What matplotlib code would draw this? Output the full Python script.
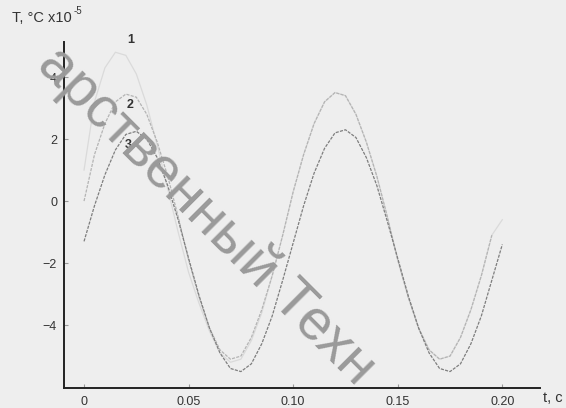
import numpy as np
import matplotlib
matplotlib.use('Agg')
from matplotlib import pyplot as plt

plt.rcParams['font.family'] = ['Liberation Sans', 'DejaVu Sans']

# time, s (step 0.005)
t = np.round(np.arange(0, 41) * 0.005, 3)

# curve 1 - faint, big first swing, then close to curve 2
T1 = [1.0, 3.2, 4.3, 4.8, 4.7, 4.1, 3.1, 1.8, 0.4, -1.0,
      -2.3, -3.3, -4.2, -4.9, -5.2, -5.1, -4.5, -3.6, -2.4, -1.1,
      0.3, 1.5, 2.5, 3.2, 3.5, 3.4, 2.8, 1.9, 0.8, -0.5,
      -1.9, -3.1, -4.1, -4.8, -5.1, -5.0, -4.4, -3.5, -2.4, -1.1, -0.6]
# curve 2 - light gray
T2 = [0.0, 1.5, 2.5, 3.2, 3.45, 3.35, 2.8, 1.9, 0.8, -0.5,
      -1.9, -3.1, -4.1, -4.8, -5.1, -5.0, -4.4, -3.5, -2.4, -1.1,
      0.3, 1.5, 2.5, 3.2, 3.5, 3.4, 2.8, 1.9, 0.8, -0.5,
      -1.9, -3.1, -4.1, -4.8, -5.1, -5.0, -4.4, -3.5, -2.4, -1.1]
# curve 3 - darkest
T3 = [-1.3, -0.15, 0.85, 1.65, 2.15, 2.25, 2.0, 1.4, 0.5, -0.6,
      -1.85, -3.05, -4.1, -4.9, -5.4, -5.5, -5.25, -4.6, -3.7, -2.55,
      -1.35, -0.15, 0.9, 1.7, 2.2, 2.3, 2.05, 1.4, 0.5, -0.65,
      -1.85, -3.05, -4.1, -4.9, -5.4, -5.5, -5.25, -4.6, -3.7, -2.55, -1.4]

xticks = [0, 0.05, 0.10, 0.15, 0.20]
xticklabels = ['0', '0.05', '0.10', '0.15', '0.20']
yticks = [-4, -2, 0, 2, 4]

bg = '#eeeeee'
fig = plt.figure(figsize=(5.66, 4.08), dpi=100, facecolor=bg)

# watermark of the scan
fig.text(0.365, 0.47, 'арственный Техн', fontsize=41, color='#9a9a9a',
         rotation=-45, ha='center', va='center', zorder=0)

ax = fig.add_axes([0.113, 0.049, 0.841, 0.848])
ax.set_facecolor('none')

ax.plot(t, T1, color='#dadada', lw=0.9)
ax.plot(t[:len(T2)], T2, color='#b4b4b4', lw=0.9, ls=(0, (2.5, 1)))
ax.plot(t, T3, color='#7e7e7e', lw=0.9, ls=(0, (2.5, 1)))

ax.set_xlim(-0.0096, 0.218)
ax.set_ylim(-6.03, 5.13)

for s in ['top', 'right']:
    ax.spines[s].set_visible(False)
for s in ['left', 'bottom']:
    ax.spines[s].set_linewidth(1.4)
    ax.spines[s].set_color('#222222')

ax.set_xticks(xticks)
ax.set_xticklabels(xticklabels)
ax.set_yticks(yticks)
ax.tick_params(direction='in', length=3, width=0.8, colors='#999999',
               labelcolor='#333333', labelsize=9)
ax.tick_params(axis='x', pad=6)
ax.tick_params(axis='y', pad=5)

# curve numbers
ax.text(0.0225, 5.2, '1', fontsize=9, color='#333333', ha='center', va='center',
        fontweight='bold', clip_on=False)
ax.text(0.022, 3.1, '2', fontsize=9, color='#333333', ha='center', va='center', fontweight='bold')
ax.text(0.021, 1.8, '3', fontsize=9, color='#333333', ha='center', va='center', fontweight='bold')

fig.text(0.021, 0.955, 'T, °C x10', fontsize=10.5, color='#333333', va='center')
fig.text(0.13, 0.972, '-5', fontsize=7, color='#333333', va='center')
fig.text(0.96, 0.025, 't, c', fontsize=10.5, color='#333333', va='center')

fig.savefig('out.png', dpi=100, facecolor=bg)
